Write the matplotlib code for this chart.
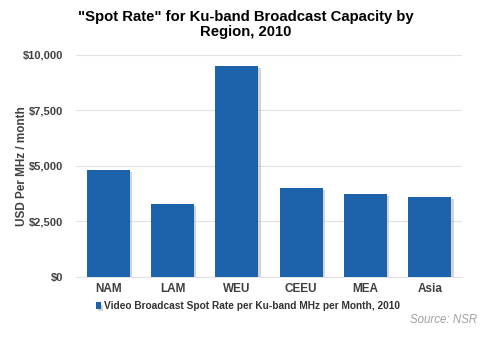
import matplotlib
matplotlib.use("Agg")
import matplotlib.pyplot as plt
import matplotlib.patheffects as pe
from matplotlib.ticker import FuncFormatter

regions = ["NAM", "LAM", "WEU", "CEEU", "MEA", "Asia"]
spot_rate = [4800, 3300, 9500, 4000, 3750, 3600]
yticks = [0, 2500, 5000, 7500, 10000]

plt.rcParams['font.family'] = ['Liberation Sans', 'DejaVu Sans']

fig = plt.figure(figsize=(4.91, 3.39), dpi=100)
ax = fig.add_axes([0.155, 0.183, 0.786, 0.655])

bar_color = "#1C63AC"
bars = ax.bar(regions, spot_rate, width=0.67, color=bar_color, zorder=3,
              label="Video Broadcast Spot Rate per Ku-band MHz per Month, 2010")
for b in bars:
    b.set_path_effects([pe.SimplePatchShadow(offset=(1.5, -1.5), shadow_rgbFace="#888888", alpha=0.35),
                        pe.Normal()])

ax.set_ylim(0, 10000)
ax.set_xlim(-0.5, len(regions) - 0.5)
ax.set_yticks(yticks)
ax.yaxis.set_major_formatter(FuncFormatter(lambda v, p: f"${int(v):,}"))
ax.grid(axis="y", color="#E3E3E3", linewidth=0.8, zorder=0)
for s in ["top", "right", "left"]:
    ax.spines[s].set_visible(False)
ax.spines["bottom"].set_color("#E3E3E3")
ax.tick_params(axis="both", length=0, colors="#404040", labelsize=8)
ax.tick_params(axis="y", pad=9)
ax.tick_params(axis="x", pad=4)
for lbl in ax.get_xticklabels() + ax.get_yticklabels():
    lbl.set_fontweight("bold")
for lbl in ax.get_xticklabels():
    lbl.set_fontsize(8.5)

ax.set_ylabel("USD Per MHz / month", fontsize=8.5, fontweight="bold", color="#404040")
ax.yaxis.set_label_coords(-0.125, 0.5)

fig.suptitle('"Spot Rate" for Ku-band Broadcast Capacity by\nRegion, 2010',
             fontsize=10.7, fontweight="bold", y=0.97, x=0.50, linespacing=1.05)

leg = fig.legend(loc="center left", bbox_to_anchor=(0.195, 0.097), frameon=False,
                 fontsize=7.3, handlelength=0.55, handleheight=0.55, handletextpad=0.3,
                 labelcolor="#333333", borderaxespad=0, borderpad=0)
for t in leg.get_texts():
    t.set_fontweight("bold")

fig.text(0.971, 0.056, "Source: NSR", fontsize=8.3, style="italic", color="#A0A0A0",
         ha="right", va="center")

fig.savefig("out.png", dpi=100)
